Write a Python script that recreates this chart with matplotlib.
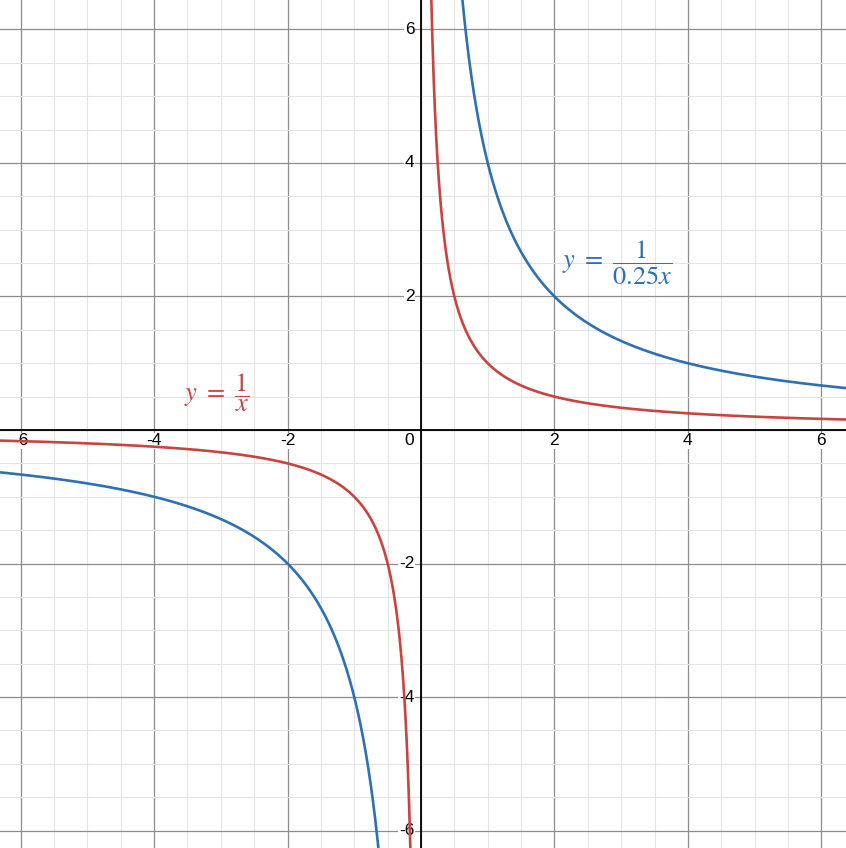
import numpy as np
import matplotlib.pyplot as plt
from matplotlib.ticker import MultipleLocator

plt.rcParams['font.family'] = ['Liberation Sans', 'DejaVu Sans']
plt.rcParams['mathtext.fontset'] = 'stix'

# curves y = 1 / (k x)
coefs = [1, 0.25]
colors = ['#c74440', '#2d70b3']
labels = [r'$y\ =\ \dfrac{1}{x}$', r'$y\ =\ \dfrac{1}{0.25x}$']
label_pos = [(-3.06, 0.55), (2.94, 2.5)]

ticks = [-6, -4, -2, 2, 4, 6]

xmin, xmax = -6.31, 6.37
ymin, ymax = -6.26, 6.44

fig = plt.figure(figsize=(8.46, 8.48), dpi=100)
ax = fig.add_axes([0, 0, 1, 1])
ax.set_xlim(xmin, xmax)
ax.set_ylim(ymin, ymax)
for s in ax.spines.values():
    s.set_visible(False)

# grid
ax.xaxis.set_major_locator(MultipleLocator(2))
ax.yaxis.set_major_locator(MultipleLocator(2))
ax.xaxis.set_minor_locator(MultipleLocator(0.5))
ax.yaxis.set_minor_locator(MultipleLocator(0.5))
ax.tick_params(which='both', length=0, labelbottom=False, labelleft=False)
ax.grid(which='major', color='#8c8c8c', linewidth=0.9, zorder=0)
ax.grid(which='minor', color='#e4e4e4', linewidth=0.8, zorder=0)
ax.set_axisbelow(True)

ax.axhline(0, color='black', linewidth=1.3, zorder=2)
ax.axvline(0, color='black', linewidth=1.3, zorder=2)

# tick labels
for t in ticks:
    ax.text(t, -0.05, str(t), ha='center', va='top', fontsize=12.5,
            zorder=3, bbox=dict(facecolor='white', edgecolor='none', pad=0.5))
    ax.text(-0.1, t, str(t), ha='right', va='center', fontsize=12.5,
            zorder=3, bbox=dict(facecolor='white', edgecolor='none', pad=0.5))
ax.text(-0.1, -0.05, '0', ha='right', va='top', fontsize=12.5, zorder=3,
        bbox=dict(facecolor='white', edgecolor='none', pad=0.5))

# curves
for k, c in zip(coefs, colors):
    xn = np.linspace(xmin, -0.001, 4000)
    xp = np.linspace(0.001, xmax, 4000)
    for xs in (xn, xp):
        ys = 1 / (k * xs)
        ys[(ys > ymax + 1) | (ys < ymin - 1)] = np.nan
        ax.plot(xs, ys, color=c, linewidth=1.9, zorder=4,
                solid_capstyle='round')

for lab, (x, y), c in zip(labels, label_pos, colors):
    ax.text(x, y, lab, color=c, fontsize=19, ha='center', va='center', zorder=5)

fig.savefig('out.png', dpi=100)
